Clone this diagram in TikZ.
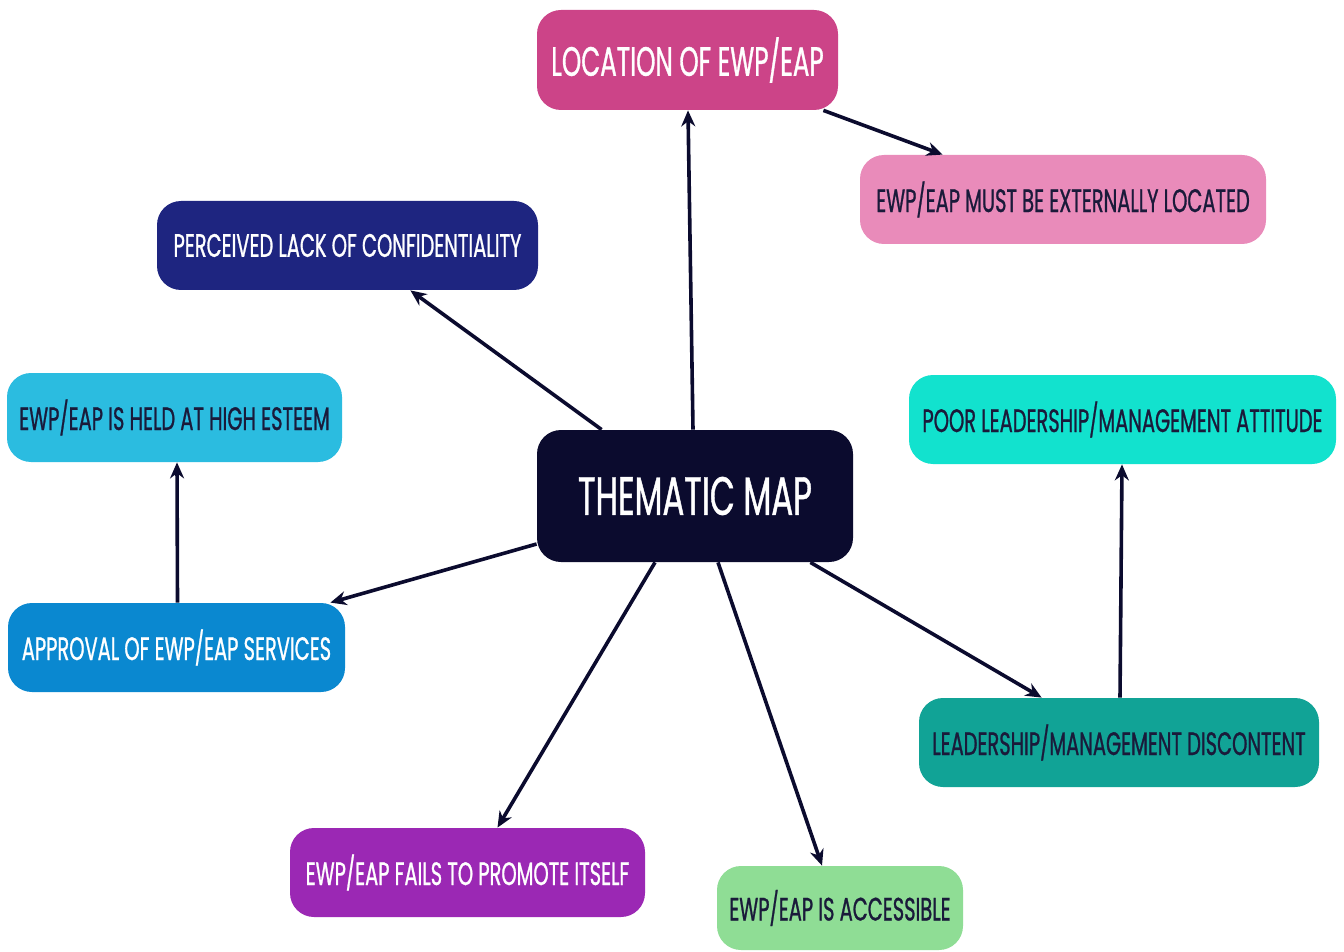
\documentclass[tikz,border=0pt]{standalone}
\usepackage{fontspec}
\setmainfont{Poppins}[FakeStretch=0.6, FakeBold=0.8]
\usetikzlibrary{arrows.meta}
\definecolor{locpink}{RGB}{204,68,136}
\definecolor{extpink}{RGB}{233,139,186}
\definecolor{confnavy}{RGB}{30,37,128}
\definecolor{estblue}{RGB}{43,188,224}
\definecolor{thmnavy}{RGB}{11,11,46}
\definecolor{poorcyan}{RGB}{18,226,206}
\definecolor{apprblue}{RGB}{10,136,208}
\definecolor{discteal}{RGB}{17,163,150}
\definecolor{failpurple}{RGB}{155,40,180}
\definecolor{accgreen}{RGB}{143,221,149}
\definecolor{inkdark}{RGB}{26,26,58}
\tikzset{
    theme/.style={rounded corners=12, inner sep=0pt, minimum height=89,
        font=\fontsize{16.2}{19}\selectfont},
    darktext/.style={text=inkdark},
    lighttext/.style={text=white},
    link/.style={->, draw=thmnavy, line width=1.8pt}}
\tikzset{every picture/.style={>={Stealth[length=8pt,width=7pt]}}}
\begin{document}
\begin{tikzpicture}[x=0.5pt,y=0.5pt,yscale=-1,xscale=1]
    \useasboundingbox[fill=white] (0,0) rectangle (1344,952);

    %Centre
    \node [theme, lighttext, fill=thmnavy, minimum width=158, minimum height=66,
        font=\fontsize{27}{30}\selectfont] (thm) at (695,496) {THEMATIC MAP};

    %Themes
    \node [theme, lighttext, fill=locpink, minimum width=150.5, minimum height=50,
        font=\fontsize{20.5}{24}\selectfont] (loc) at (687.5,60) {LOCATION OF EWP/EAP};
    \node [theme, darktext, fill=extpink, minimum width=203, minimum height=44.5] (ext) at (1063,199.5) {EWP/EAP MUST BE EXTERNALLY LOCATED};
    \node [theme, lighttext, fill=confnavy, minimum width=190.5, minimum height=44.5] (conf) at (347.5,245.5) {PERCEIVED LACK OF CONFIDENTIALITY};
    \node [theme, darktext, fill=estblue, minimum width=167.5, minimum height=44.5] (est) at (174.5,417.5) {EWP/EAP IS HELD AT HIGH ESTEEM};
    \node [theme, darktext, fill=poorcyan, minimum width=213.5, minimum height=44.5] (poor) at (1122.5,419.5) {POOR LEADERSHIP/MANAGEMENT ATTITUDE};
    \node [theme, lighttext, fill=apprblue, minimum width=168.5, minimum height=44.5] (appr) at (176.5,647.5) {APPROVAL OF EWP/EAP SERVICES};
    \node [theme, darktext, fill=discteal, minimum width=200, minimum height=44.5] (disc) at (1119,742.5) {LEADERSHIP/MANAGEMENT DISCONTENT};
    \node [theme, lighttext, fill=failpurple, minimum width=177.5, minimum height=44.5] (fail) at (467.5,872.5) {EWP/EAP FAILS TO PROMOTE ITSELF};
    \node [theme, darktext, fill=accgreen, minimum width=123, minimum height=42] (acc) at (840,908) {EWP/EAP IS ACCESSIBLE};

    %Arrows
    \draw [link] ([xshift=-1pt]thm.north) -- ([xshift=0.25pt]loc.south);
    \draw [link] ([xshift=-7.5pt]loc.south east) -- ([xshift=41.5pt]ext.north west);
    \draw [link] ([xshift=32.5pt]thm.north west) -- ([xshift=-64pt]conf.south east);
    \draw [link] ([yshift=24pt]thm.west) -- ([xshift=-7.5pt]appr.north east);
    \draw [link] ([xshift=0.5pt]appr.north) -- ([xshift=1.25pt]est.south);
    \draw [link] ([xshift=-20pt]thm.south) -- ([xshift=15pt]fail.north);
    \draw [link] ([xshift=11.5pt]thm.south) -- ([xshift=-9pt]acc.north);
    \draw [link] ([xshift=-21.5pt]thm.south east) -- ([xshift=61.5pt]disc.north west);
    \draw [link] ([xshift=0.5pt]disc.north) -- ([xshift=-0.25pt]poor.south);
\end{tikzpicture}
\end{document}
